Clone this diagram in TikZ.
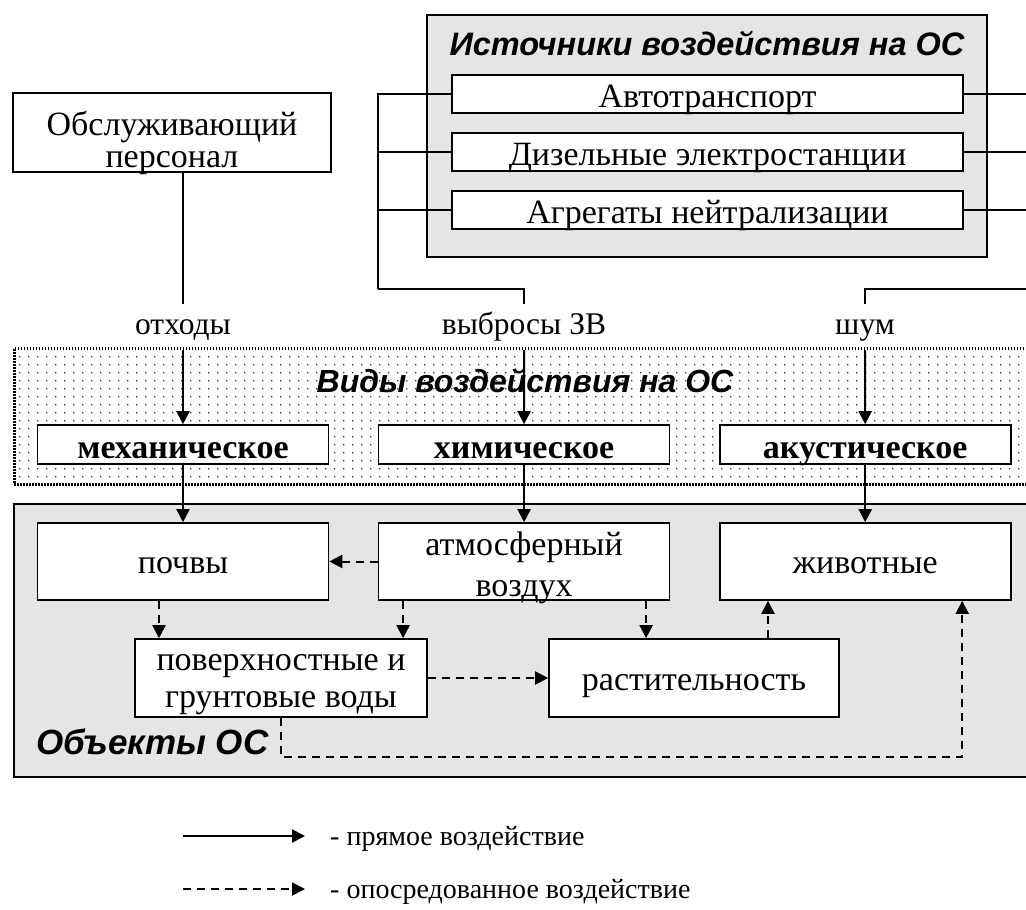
\documentclass[tikz,border=0pt]{standalone}
\usepackage{fontspec}
\setmainfont{Liberation Serif}
\setsansfont{Liberation Sans}
\usetikzlibrary{positioning}
\usetikzlibrary{arrows.meta}
\tikzstyle{box}=[draw, fill=white, line width=1.6pt, inner sep=0pt, font=\fontsize{34}{36}\selectfont, text height=27pt, text depth=0pt]
\tikzstyle{srcbox}=[box, minimum width=511pt, minimum height=38pt]
\tikzstyle{kind}=[box, minimum width=291pt, minimum height=39pt, font=\fontsize{34}{36}\selectfont\bfseries]
\tikzstyle{obj}=[box, minimum width=291pt, minimum height=77pt, text height=24pt]
\tikzstyle{frame}=[draw, fill=black!10, line width=1.8pt, inner sep=0pt]
\tikzstyle{lbl}=[inner xsep=2pt, inner ysep=8pt, font=\fontsize{31.5}{34}\selectfont, text height=22pt, text depth=8pt]
\tikzstyle{ttl}=[inner sep=0pt, font=\fontsize{32.5}{34}\selectfont\sffamily\bfseries\itshape]
\tikzstyle{legtext}=[inner sep=0pt, font=\fontsize{28}{30}\selectfont]
\tikzstyle{conn}=[line width=2pt]
\tikzstyle{direct}=[conn, -{Triangle[length=13pt,width=13pt]}]
\tikzstyle{indirect}=[direct, dash pattern=on 8pt off 6pt]

\begin{document}
\begin{tikzpicture}[x=1pt, y=-1pt]
\useasboundingbox (0,0) rectangle (1026,910);
\clip (0,0) rectangle (1026,910);

% sources
\node (srcframe) [frame, minimum width=560pt, minimum height=242pt] at (707,136) {};
\node (srctitle) [ttl, anchor=base] at (707,55) {Источники воздействия на ОС};
\node (auto) [srcbox] at (707.5,94) {Автотранспорт};
\node (diesel) [srcbox, below=18.5pt of auto] {Дизельные электростанции};
\node (neutr) [srcbox, below=18.5pt of diesel] {Агрегаты нейтрализации};

\node (staff) [box, minimum width=318pt, minimum height=79pt, align=center, font=\fontsize{34}{32}\selectfont, text height=73pt, text depth=4pt] at (172,132.5) {Обслуживающий\\персонал};

% kinds of impact
\fill[black!80] foreach \i in {0,...,112} {foreach \j in {0,...,15} {(19+9*\i,356+8*\j) rectangle ++(1.3,1.3)}};
\node (kinds) [draw, line width=2.5pt, dash pattern=on 1.5pt off 1.5pt, minimum width=1040pt, minimum height=136pt, inner sep=0pt, anchor=north west] at (13,347) {};
\node (kindtitle) [ttl, font=\fontsize{32}{34}\selectfont\sffamily\bfseries\itshape, anchor=base] at (525,392) {Виды воздействия на ОС};
\node (mech) [kind] at (183,444.5) {механическое};
\node (chem) [kind, right=48.5pt of mech] {химическое};
\node (acoust) [kind, right=48.5pt of chem] {акустическое};

\node (waste) [lbl] at (183,327) {отходы};
\node (emis) [lbl] at (524,327) {выбросы ЗВ};
\node (noise) [lbl] at (865,327) {шум};

% objects
\node (objects) [frame, minimum width=1040pt, minimum height=273pt, anchor=north west] at (13,503) {};
\node (soil) [obj] at (183,561.5) {почвы};
\node (air) [obj, right=48.5pt of soil, align=center, font=\fontsize{34}{41}\selectfont, text height=72pt, text depth=2pt] {атмосферный\\воздух};
\node (fauna) [obj, right=48.5pt of air] {животные};
\node (water) [obj, minimum width=292pt, minimum height=78pt, align=center, font=\fontsize{34}{37}\selectfont, text height=66pt, text depth=8pt] at (281,678) {поверхностные и\\грунтовые воды};
\node (flora) [obj, minimum width=290pt, minimum height=78pt] at (694,678) {растительность};
\node (objtitle) [ttl, font=\fontsize{35}{36}\selectfont\sffamily\bfseries\itshape, anchor=base west] at (36,754) {Объекты ОС};

% sources -> kinds
\coordinate (lbus) at (378,289);
\coordinate (rbus) at (1040,289);
\foreach \s in {auto,diesel,neutr} {
  \draw[conn] (\s.west) -| (lbus);
  \draw[conn] (\s.east) -| (rbus);
}
\draw[conn] (lbus) -| (emis.north);
\draw[conn] (rbus) -| (noise.north);
\draw[conn] (staff.south -| waste.north) -- (waste.north);

\draw[direct] (waste) -- (mech);
\draw[direct] (emis) -- (chem);
\draw[direct] (noise) -- (acoust);
\draw[direct] (mech) -- (soil);
\draw[direct] (chem) -- (air);
\draw[direct] (acoust) -- (fauna);

% indirect impact
\draw[indirect] (air) -- (soil);
\draw[indirect] ([xshift=-24pt]soil.south) -- ([xshift=-24pt]soil.south |- water.north);
\draw[indirect] ([xshift=-121pt]air.south) -- ([xshift=-121pt]air.south |- water.north);
\draw[indirect] ([xshift=122pt]air.south) -- ([xshift=122pt]air.south |- flora.north);
\draw[indirect] ([xshift=74pt]flora.north) -- ([xshift=74pt]flora.north |- fauna.south);
\draw[indirect] (water) -- (flora);
\draw[indirect, line width=1.6pt] (water.south) -- ++(0,39) -| ([xshift=97pt]fauna.south);

% legend
\coordinate (leg1a) at (183,836);
\coordinate (leg1b) at (305,836);
\coordinate (leg2a) at (183,889);
\coordinate (leg2b) at (305,889);
\draw[direct] (leg1a) -- (leg1b);
\draw[indirect] (leg2a) -- (leg2b);
\node (leg1) [legtext, anchor=base west] at (330,845) {- прямое воздействие};
\node (leg2) [legtext, anchor=base west] at (330,898) {- опосредованное воздействие};
\end{tikzpicture}
\end{document}
